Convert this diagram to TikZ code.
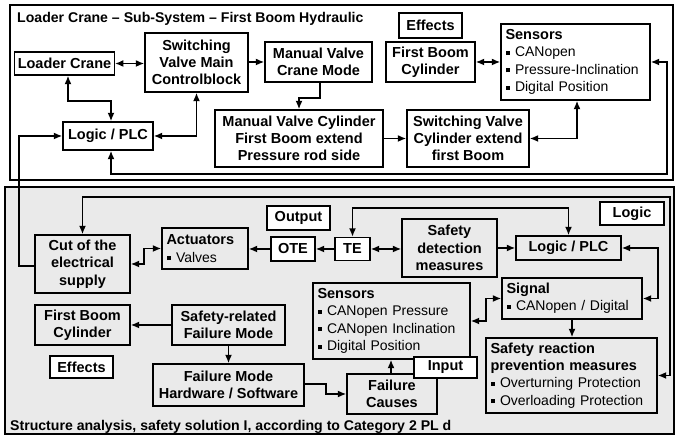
\documentclass[tikz,border=0pt]{standalone}
\usepackage{fontspec}
\setmainfont{Liberation Sans}
\usetikzlibrary{arrows.meta}
\definecolor{bggray}{RGB}{234,234,234}
\newcommand\bul{\rule[2pt]{4pt}{4pt}\hspace{5.5pt}}
\begin{document}
\begin{tikzpicture}[x=1pt,y=-1pt,
  box/.style={draw=black, line width=1.3pt, fill=white, inner xsep=3pt, inner ysep=0pt,
    font=\fontsize{14.5}{17.3}\selectfont\bfseries, align=center},
  gbox/.style={box, fill=bggray},
  lbox/.style={align=left, inner xsep=4.5pt, font=\fontsize{14}{17.3}\selectfont},
  sz/.style 2 args={minimum width=#1pt, minimum height=#2pt},
  conn/.style={line width=1.9pt, -{Latex[length=8.5pt,width=7pt]}},
  bconn/.style={line width=1.9pt, {Latex[length=8.5pt,width=7pt]}-{Latex[length=8.5pt,width=7pt]}},
  ttl/.style={anchor=base west, inner sep=0pt, font=\fontsize{14.1}{16}\selectfont\bfseries}
]
\useasboundingbox (0,0) rectangle (675,435);
% frames
\draw[line width=1.3pt, fill=white] (10,5) rectangle (673,180);
\draw[line width=1.3pt, fill=bggray] (5,187) rectangle (674,434);
\node[ttl] (ttop) at (17,22.5) {Loader Crane – Sub-System – First Boom Hydraulic};
\node[ttl] (tbot) at (10,431) {Structure analysis, safety solution I, according to Category 2 PL d};

% top section
\node[box, sz={99}{23}] (loader) at (64.5,63.5) {Loader Crane};
\node[box, sz={103}{59}] (swmain) at (196.5,62.5) {Switching\\Valve Main\\Controlblock};
\node[box, sz={107}{40}] (mvcrane) at (318.5,62) {Manual Valve\\Crane Mode};
\node[box, sz={90}{28}] (plctop) at (108,136) {Logic / PLC};
\node[box, sz={168}{57}] (mvcyl) at (299,138.5) {Manual Valve Cylinder\\First Boom extend\\Pressure rod side};
\node[box, sz={122}{57}] (swcyl) at (468,138.5) {Switching Valve\\Cylinder extend\\first Boom};
\node[box, sz={63}{25}] (efftop) at (430.5,25.5) {Effects};
\node[box, sz={89}{40}] (fbctop) at (430.5,62) {First Boom\\Cylinder};
\node[box, lbox, sz={149}{76}, text width=140pt] (senstop) at (575.5,62)
  {\textbf{\fontsize{14.5}{17.3}\selectfont Sensors}\\\bul CANopen\\\bul Pressure-Inclination\\\bul Digital Position};

% bottom section
\node[box, sz={63}{24}] (outlbl) at (298.5,218) {Output};
\node[box, sz={64}{23}] (logiclbl) at (632,213.5) {Logic};
\node[gbox, sz={95}{58}] (cut) at (82.5,264) {Cut of the\\electrical\\supply};
\node[gbox, lbox, sz={86}{41}, text width=77pt] (act) at (205,248.5) {\textbf{\fontsize{14.5}{17.3}\selectfont Actuators}\\\bul Valves};
\node[box, sz={44}{24}] (ote) at (293,249) {OTE};
\node[box, sz={35}{23}] (te) at (352.5,249) {TE};
\node[gbox, sz={95}{58}] (sdm) at (449.5,248) {Safety\\detection\\measures};
\node[gbox, sz={105}{24}] (plcbot) at (568.5,248) {Logic / PLC};
\node[gbox, lbox, sz={140}{41}, text width=131pt] (signal) at (572,298.5) {\textbf{\fontsize{14.5}{17.3}\selectfont Signal}\\\bul CANopen / Digital};
\node[gbox, lbox, sz={157}{76}, text width=148pt] (sensbot) at (391.5,321)
  {\textbf{\fontsize{14.5}{17.3}\selectfont Sensors}\\\bul CANopen Pressure\\\bul CANopen Inclination\\\bul Digital Position};
\node[gbox, sz={90}{40}] (fcause) at (392,394) {Failure\\Causes};
\node[gbox, lbox, sz={171}{75}, text width=162pt] (srpm) at (571.5,375.5)
  {\textbf{\fontsize{14.5}{17.3}\selectfont Safety reaction}\\\textbf{\fontsize{14.5}{17.3}\selectfont prevention measures}\\\bul Overturning Protection\\\bul Overloading Protection};
\node[gbox, sz={95}{40}] (fbcbot) at (82.5,325) {First Boom\\Cylinder};
\node[gbox, sz={113}{40}] (srfm) at (228.5,325) {Safety-related\\Failure Mode};
\node[box, sz={63}{22}] (effbot) at (81.5,367) {Effects};
\node[gbox, sz={151}{42}] (fmhw) at (228.5,385) {Failure Mode\\Hardware / Software};

% top connectors
\draw[bconn] (loader.east) -- (swmain.west |- loader.east);
\draw[conn] (swmain.east |- mvcrane.west) -- (mvcrane.west);
\draw[conn] ([xshift=1.5pt]mvcrane.south) -- ++(0,15) -| (mvcyl.north);
\draw[conn] (mvcyl.east) -- (swcyl.west);
\draw[bconn] (swcyl.east) -| ([xshift=1.5pt]senstop.south);
\draw[bconn] (fbctop.east) -- (senstop.west |- fbctop.east);
\draw[bconn] ([xshift=3.5pt]loader.south) -- ++(0,25) -| ([xshift=3pt]plctop.north);
\draw[bconn] (plctop.east) -| (swmain.south);
\coordinate (c1) at (667,174);
\draw[bconn] (senstop.east) -| (c1) -| ([xshift=3pt]plctop.south);
\draw[conn] ([yshift=-2pt]cut.west) -- ++(-15,0) |- (plctop.west);

% bottom connectors
\draw[bconn] (te.north) -- ++(0,-29) -| (plcbot.north);
\draw[bconn] (te.east) -- (sdm.west |- te.east);
\draw[conn] (sdm.east) -- (plcbot.west);
\draw[conn] (te.west) -- (ote.east);
\draw[conn] (ote.west) -- (act.east |- ote.west);
\draw[bconn] (act.west) -- ++(-17,0) |- (cut.east);
\coordinate (c2) at (670,197);
\draw[bconn] (cut.north) |- (c2) |- (srpm.east);
\draw[bconn] (plcbot.east) -- ++(36,0) |- (signal.east);
\draw[bconn] (signal.west) -- ++(-15,0) |- (sensbot.east);
\draw[conn] (signal.south) -- (signal.south |- srpm.north);
\draw[conn] (srfm.west) -- (fbcbot.east);
\draw[conn] (srfm.south) -- (fmhw.north);
\draw[conn] ([yshift=1pt]fmhw.east) -- ++(21,0) |- (fcause.west);
\draw[conn] ([xshift=-1pt]fcause.north) -- ([xshift=-1pt]fcause.north |- sensbot.south);

\node[box, sz={63}{21}] (input) at (445.5,367.5) {Input};
\end{tikzpicture}
\end{document}
